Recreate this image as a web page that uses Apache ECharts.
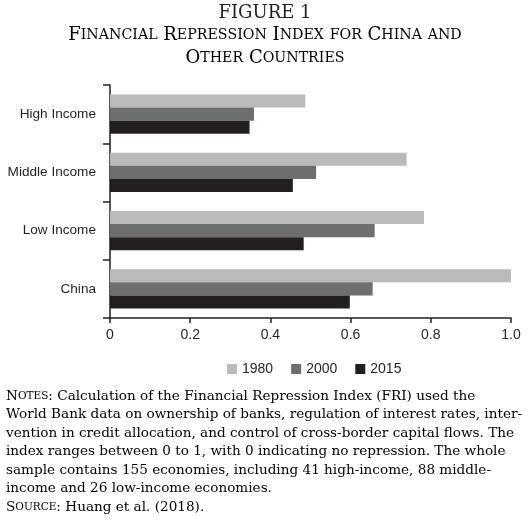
<!DOCTYPE html>
<html>
<head>
<meta charset="utf-8">
<script src="https://cdn.jsdelivr.net/npm/echarts@6/dist/echarts.min.js"></script>
<style>
  html, body { margin: 0; padding: 0; background: #fff; }
  #main { width: 530px; height: 524px; }
</style>
</head>
<body>
<div id="main"></div>
<script>
// categories listed bottom to top (ECharts puts the first one at the bottom)
var categories = ['China', 'Low Income', 'Middle Income', 'High Income'];
var years = ['1980', '2000', '2015'];
var fri1980 = [1.0, 0.783, 0.740, 0.487];
var fri2000 = [0.655, 0.660, 0.514, 0.359];
var fri2015 = [0.598, 0.483, 0.456, 0.348];
var xTicks = ['0', '0.2', '0.4', '0.6', '0.8', '1.0'];

var colors = ['#b9babc', '#6d6e70', '#231f20'];
var ink = '#231f20';
var serif = '"DejaVu Serif", serif';
var sans = '"Liberation Sans", Arial, sans-serif';

var chart = echarts.init(document.getElementById('main'));

// small caps helper for rich text: capitals big, lowercase shown as small capitals
function smallCaps(str, big, sm) {
    var out = '';
    var i;
    for (i = 0; i < str.length; i++) {
        var c = str[i];
        if (c >= 'a' && c <= 'z') {
            out += '{' + sm + '|' + c.toUpperCase() + '}';
        } else {
            out += '{' + big + '|' + c + '}';
        }
    }
    return out;
}

var notes = [
    smallCaps('Notes', 'nb', 'ns') + '{t|: Calculation of the Financial Repression Index (FRI) used the}',
    '{t|World Bank data on ownership of banks, regulation of interest rates, inter-}',
    '{t|vention in credit allocation, and control of cross-border capital flows. The}',
    '{t|index ranges between 0 to 1, with 0 indicating no repression. The whole}',
    '{t|sample contains 155 economies, including 41 high-income, 88 middle-}',
    '{t|income and 26 low-income economies.}',
    smallCaps('Source', 'nb', 'ns') + '{t|: Huang et al. (2018).}'
];

var noteRich = {
    t: { fontFamily: serif, fontSize: 13.6, color: ink },
    nb: { fontFamily: serif, fontSize: 13.6, color: ink },
    ns: { fontFamily: serif, fontSize: 10.5, color: ink }
};

var titleRich = {
    b: { fontFamily: serif, fontSize: 18, fontWeight: 'normal', color: ink },
    s: { fontFamily: serif, fontSize: 14.2, fontWeight: 'normal', color: ink }
};

var graphics = [{
    type: 'text', x: 265, y: 4,
    style: { text: 'FIGURE 1', font: '18px "DejaVu Serif", serif', fill: ink, textAlign: 'center' }
}, {
    type: 'text', x: 265, y: 26,
    style: { text: smallCaps('Financial Repression Index for China and', 'b', 's'), rich: titleRich, textAlign: 'center' }
}, {
    type: 'text', x: 265, y: 49,
    style: { text: smallCaps('Other Countries', 'b', 's'), rich: titleRich, textAlign: 'center' }
}];

notes.forEach(function (line, i) {
    graphics.push({
        type: 'text',
        x: 6,
        y: 389 + i * 18.5,
        style: { text: line, rich: noteRich }
    });
});

var option = {
    animation: false,
    legend: {
        data: years,
        left: 222,
        top: 357,
        icon: 'rect',
        itemWidth: 10,
        itemHeight: 10,
        itemGap: 18,
        textStyle: { fontFamily: sans, fontSize: 14, color: ink }
    },
    grid: { left: 110, right: 19, top: 85, bottom: 206 },
    xAxis: {
        type: 'value',
        min: 0,
        max: 1,
        interval: 0.2,
        axisLine: { show: true, lineStyle: { color: ink, width: 1.5 } },
        axisTick: { show: true, length: 5, lineStyle: { color: ink, width: 1.5 } },
        splitLine: { show: false },
        axisLabel: {
            margin: 10,
            fontFamily: sans,
            fontSize: 14,
            color: ink,
            formatter: function (v) { return xTicks[Math.round(v * 5)]; }
        }
    },
    yAxis: {
        type: 'category',
        data: categories,
        axisLine: { show: true, lineStyle: { color: ink, width: 1.5 } },
        axisTick: { show: true, length: 7, lineStyle: { color: ink, width: 1.5 } },
        axisLabel: { margin: 14, fontFamily: sans, fontSize: 13.6, color: ink }
    },
    series: [{
        name: years[0], type: 'bar', data: fri1980,
        itemStyle: { color: colors[0] }, barGap: 0, barCategoryGap: '33%'
    }, {
        name: years[1], type: 'bar', data: fri2000,
        itemStyle: { color: colors[1] }, barGap: 0, barCategoryGap: '33%'
    }, {
        name: years[2], type: 'bar', data: fri2015,
        itemStyle: { color: colors[2] }, barGap: 0, barCategoryGap: '33%'
    }],
    graphic: graphics
};

chart.setOption(option);
</script>
</body>
</html>
